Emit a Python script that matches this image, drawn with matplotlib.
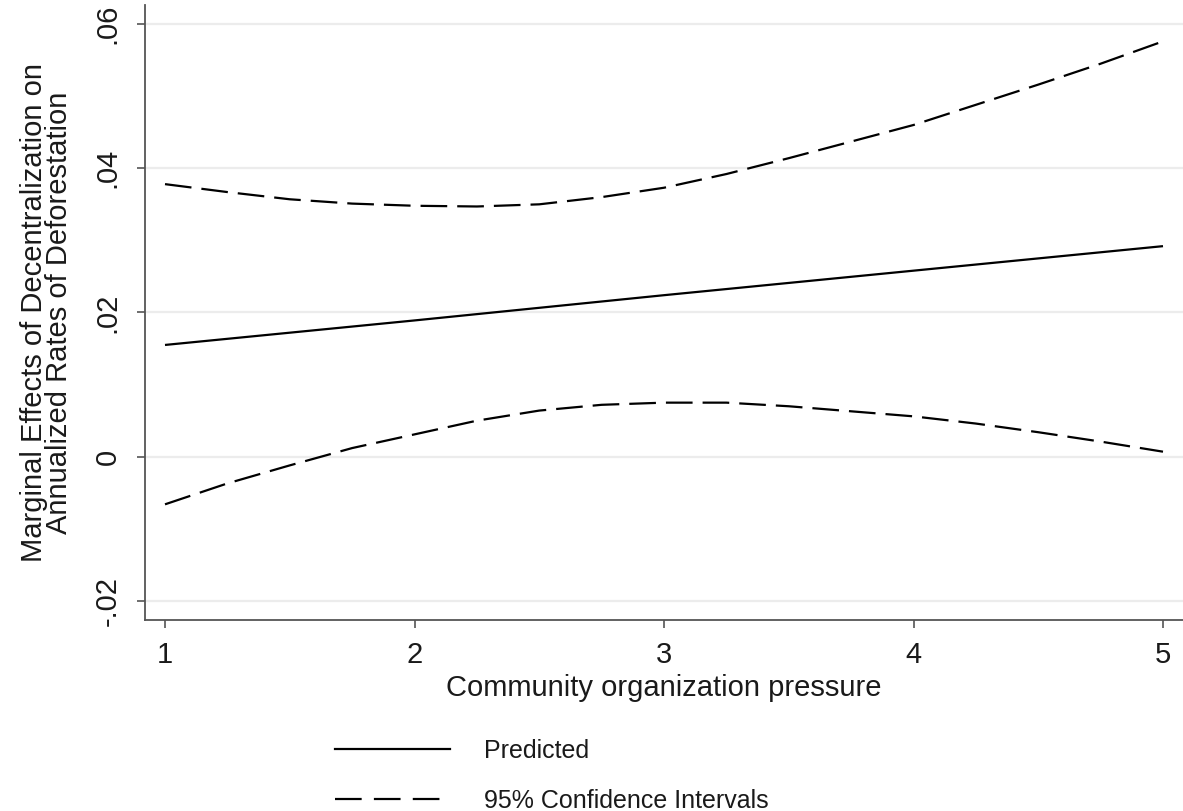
import matplotlib
matplotlib.use("Agg")
import matplotlib.pyplot as plt
from matplotlib.lines import Line2D

# ---- data ----
x_ci = [1.0, 1.25, 1.5, 1.75, 2.0, 2.25, 2.5, 2.75, 3.0, 3.25, 3.5, 3.75,
        4.0, 4.25, 4.5, 4.75, 5.0]
upper_ci = [0.0378, 0.0367, 0.0357, 0.0351, 0.0348, 0.0347, 0.0350, 0.0360,
            0.0373, 0.0392, 0.0414, 0.0437, 0.0460, 0.0488, 0.0516, 0.0545,
            0.0576]
lower_ci = [-0.0066, -0.0037, -0.0012, 0.0012, 0.0031, 0.0050, 0.0064, 0.0072,
            0.0075, 0.0075, 0.0070, 0.0063, 0.0056, 0.0046, 0.0034, 0.0021,
            0.0007]
x_pred = [1, 2, 3, 4, 5]
predicted = [0.0155, 0.0189, 0.0224, 0.0258, 0.0292]

x_ticks = [1, 2, 3, 4, 5]
y_ticks = [-0.02, 0, 0.02, 0.04, 0.06]
y_ticklabels = ["-.02", "0", ".02", ".04", ".06"]

x_label = "Community organization pressure"
y_label = "Marginal Effects of Decentralization on\nAnnualized Rates of Deforestation"
legend_labels = ["Predicted", "95% Confidence Intervals"]

# ---- styling ----
plt.rcParams["font.family"] = ["Liberation Sans", "DejaVu Sans"]
text_color = "#1a1a1a"
W, H = 1183, 811
fig = plt.figure(figsize=(W / 100, H / 100), dpi=100)
ax = fig.add_axes([145 / W, 1 - 620 / H, (W - 145) / W, (620 - 5) / H])

dash = (0, (12, 4.5))
lw = 1.6
ax.plot(x_pred, predicted, color="black", lw=lw, solid_capstyle="butt")
ax.plot(x_ci, upper_ci, color="black", lw=lw, linestyle=dash)
ax.plot(x_ci, lower_ci, color="black", lw=lw, linestyle=dash)

ax.set_xlim(1 - 20 / 249.5, 5 + 20 / 249.5)
ax.set_ylim(-0.02 - 19 / 7200, 0.06 + 19 / 7200)

ax.set_xticks(x_ticks)
ax.set_xticklabels([str(t) for t in x_ticks])
ax.set_yticks(y_ticks)
ax.set_yticklabels(y_ticklabels, rotation=90, va="center")

for s in ["top", "right"]:
    ax.spines[s].set_visible(False)
for s in ["left", "bottom"]:
    ax.spines[s].set_color("#555555")
    ax.spines[s].set_linewidth(1.3)

ax.tick_params(axis="both", direction="out", length=6, width=1.2,
               color="#555555", labelsize=21, labelcolor=text_color)
ax.tick_params(axis="y", pad=11)
ax.tick_params(axis="x", pad=9)
ax.grid(axis="y", color="#ececec", lw=1.6)
ax.set_axisbelow(True)

ax.set_xlabel(x_label, fontsize=21, color=text_color, labelpad=4)
ax.set_ylabel(y_label, fontsize=21, color=text_color, labelpad=15,
              linespacing=0.85)

handles = [Line2D([], [], color="black", lw=lw),
           Line2D([], [], color="black", lw=lw, linestyle=(0, (12, 5.5)))]
fig.legend(handles, legend_labels, loc="upper left",
           bbox_to_anchor=(317 / W, 1 - 721 / H), frameon=False,
           fontsize=18, handlelength=4.6, handletextpad=1.4,
           labelspacing=1.05, labelcolor=text_color, borderaxespad=0.3)

fig.savefig("out.png", dpi=100, facecolor="white")
